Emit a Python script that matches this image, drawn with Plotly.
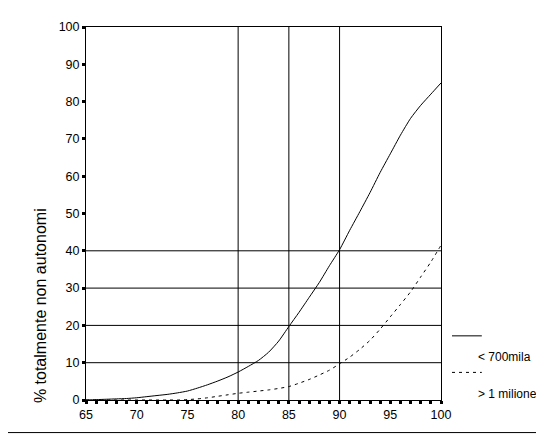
import plotly.graph_objects as go

eta = list(range(65, 101))
sotto_700mila = [0, 0.1, 0.2, 0.3, 0.4, 0.6, 0.9, 1.2, 1.5, 1.9, 2.4, 3.2, 4.1, 5.1, 6.2, 7.5,
                 9.0, 10.6, 12.8, 15.8, 19.7, 23.5, 27.5, 31.5, 36.0, 40.3, 45.5, 50.5, 55.6,
                 61.0, 66.0, 71.0, 75.5, 79.0, 82.0, 85.0]
oltre_1milione = [0, 0, 0, 0, 0, 0, 0, 0, 0, 0, 0.1, 0.3, 0.6, 1.0, 1.4, 1.8, 2.1, 2.4, 2.7,
                  3.1, 3.6, 4.5, 5.5, 6.7, 8.0, 9.7, 11.5, 13.6, 16.0, 19.0, 22.3, 25.6, 29.0,
                  33.0, 37.0, 41.5]
serie_nomi = ["< 700mila", "> 1 milione"]
grid_x = [80, 85, 90]
grid_y = [10, 20, 30, 40]
x_ticks = list(range(65, 101, 5))
y_ticks = list(range(0, 101, 10))

FONT = "Liberation Sans, Arial, sans-serif"

fig = go.Figure()
fig.add_trace(go.Scatter(x=eta, y=sotto_700mila, mode="lines", name=serie_nomi[0],
                         line=dict(color="black", width=1, shape="spline", smoothing=0.6)))
fig.add_trace(go.Scatter(x=eta, y=oltre_1milione, mode="lines", name=serie_nomi[1],
                         line=dict(color="black", width=1, dash="3px,4px", shape="spline",
                                   smoothing=0.6)))

for gx in grid_x:
    fig.add_shape(type="line", x0=gx, x1=gx, y0=0, y1=100, xref="x", yref="y",
                  line=dict(color="black", width=1), layer="below")
for gy in grid_y:
    fig.add_shape(type="line", x0=65, x1=100, y0=gy, y1=gy, xref="x", yref="y",
                  line=dict(color="black", width=1), layer="below")

# legend drawn manually (line sample above the label)
fig.add_shape(type="line", xref="paper", yref="paper", x0=1.031, x1=1.115, y0=0.172, y1=0.172,
              line=dict(color="black", width=1))
fig.add_shape(type="line", xref="paper", yref="paper", x0=1.031, x1=1.115, y0=0.074, y1=0.074,
              line=dict(color="black", width=1, dash="3px,4px"))
fig.add_annotation(xref="paper", yref="paper", x=1.099, y=0.114, text=serie_nomi[0],
                   showarrow=False, xanchor="left", yanchor="middle",
                   font=dict(family=FONT, size=12, color="black"))
fig.add_annotation(xref="paper", yref="paper", x=1.099, y=0.016, text=serie_nomi[1],
                   showarrow=False, xanchor="left", yanchor="middle",
                   font=dict(family=FONT, size=12, color="black"))

# y-axis title
fig.add_annotation(xref="paper", yref="paper", x=-0.13, y=0.254, text="% totalmente non autonomi",
                   showarrow=False, textangle=-90, xanchor="center", yanchor="middle",
                   font=dict(family=FONT, size=16, color="black"))

# outer frame (right and bottom)
fig.add_shape(type="line", xref="paper", yref="paper", x0=1.278, x1=1.278, y0=-0.0873, y1=1.04,
              line=dict(color="black", width=1.5))
fig.add_shape(type="line", xref="paper", yref="paper", x0=-0.25, x1=1.278, y0=-0.0873, y1=-0.0873,
              line=dict(color="black", width=1))

fig.update_layout(
    width=536, height=427,
    margin=dict(l=78, r=103, t=14, b=35),
    paper_bgcolor="white", plot_bgcolor="white",
    showlegend=False,
    font=dict(family=FONT, size=12, color="black"),
    xaxis=dict(range=[65, 100], tickvals=x_ticks, showgrid=False, zeroline=False,
               showline=True, linecolor="black", linewidth=1, mirror=True,
               ticks="outside", ticklen=3, tickwidth=3, tickcolor="black",
               minor=dict(dtick=1, ticks="outside", ticklen=3, tickwidth=3, tickcolor="black"),
               tickfont=dict(family=FONT, size=12.5)),
    yaxis=dict(range=[0, 100], tickvals=y_ticks, showgrid=False, zeroline=False,
               showline=True, linecolor="black", linewidth=1, mirror=True,
               ticks="outside", ticklen=3, tickwidth=3, tickcolor="black",
               tickfont=dict(family=FONT, size=12.5)),
)

fig.write_html("out.html")
